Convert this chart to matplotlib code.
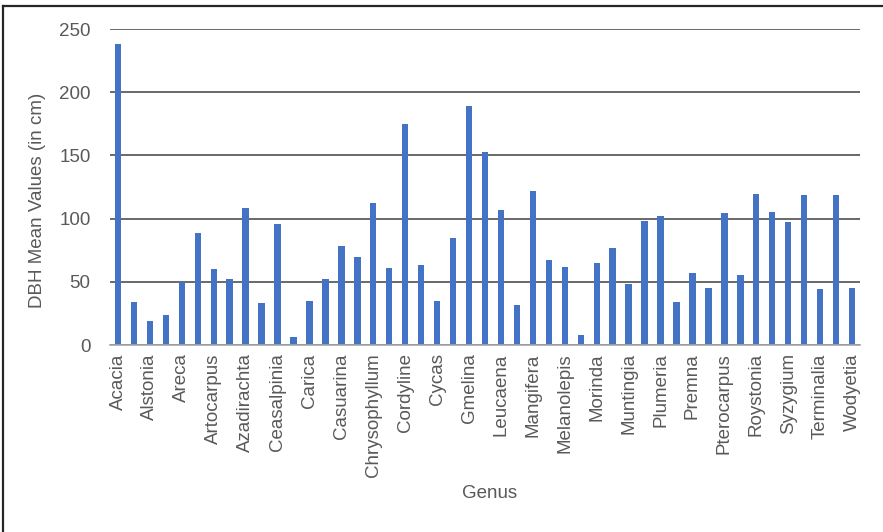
import matplotlib
matplotlib.use("Agg")
import matplotlib.pyplot as plt
from matplotlib.lines import Line2D

plt.rcParams['font.family'] = ['Liberation Sans', 'DejaVu Sans']

# Mean DBH per genus (every genus drawn; labels shown on alternate bars)
dbh_means = [238, 34, 19, 24, 50, 89, 60, 52, 108, 33,
             96, 6, 35, 52, 78, 70, 112, 61, 175, 63,
             35, 84.5, 189, 153, 107, 32, 122, 67, 62, 8,
             65, 77, 48, 98, 102, 34, 57, 45, 104.5, 55,
             119.5, 105, 97, 119, 44, 119, 45]
genus_labels = ["Acacia", "Alstonia", "Areca", "Artocarpus", "Azadirachta",
                "Ceasalpinia", "Carica", "Casuarina", "Chrysophyllum",
                "Cordyline", "Cycas", "Gmelina", "Leucaena", "Mangifera",
                "Melanolepis", "Morinda", "Muntingia", "Plumeria", "Premna",
                "Pterocarpus", "Roystonia", "Syzygium", "Terminalia", "Wodyetia"]
y_ticks = [0, 50, 100, 150, 200, 250]

text_color = "#595959"
bar_color = "#4472C4"

fig = plt.figure(figsize=(8.83, 5.32), dpi=100)
ax = fig.add_axes([110 / 883, 1 - 345 / 532, 750 / 883, 316 / 532])

positions = list(range(len(dbh_means)))
ax.bar(positions, dbh_means, width=0.4, color=bar_color, zorder=3)

ax.set_xlim(-0.5, len(dbh_means) - 0.5)
ax.set_ylim(0, 250)
ax.set_yticks(y_ticks)
ax.set_yticklabels([str(t) for t in y_ticks])
ax.set_xticks(positions[::2])
ax.set_xticklabels(genus_labels, rotation=90)

ax.grid(axis="y", color="#404040", linewidth=1.1, zorder=0)
for side in ("top", "right", "left"):
    ax.spines[side].set_visible(False)
ax.spines["bottom"].set_color("#a6a6a6")
ax.spines["bottom"].set_linewidth(1.2)
ax.spines["bottom"].set_zorder(4)

ax.tick_params(axis="both", length=0, labelsize=13.5, labelcolor=text_color)
ax.tick_params(axis="y", pad=14)
ax.tick_params(axis="x", pad=6)

fig.text(38 / 883, 1 - 200 / 532, "DBH Mean Values (in cm)", rotation=90,
         ha="center", va="center", fontsize=13.5, color=text_color)
fig.text(490 / 883, 1 - 493 / 532, "Genus", ha="center", va="center",
         fontsize=13.5, color=text_color)

# chart-area frame along the top and left edges
fig.add_artist(Line2D([3.5 / 883, 1], [1 - 5.5 / 532, 1 - 5.5 / 532],
                      transform=fig.transFigure, color="#262626", linewidth=1.6))
fig.add_artist(Line2D([3.5 / 883, 3.5 / 883], [0, 1 - 5.5 / 532],
                      transform=fig.transFigure, color="#262626", linewidth=1.6))

fig.savefig("out.png", dpi=100)
